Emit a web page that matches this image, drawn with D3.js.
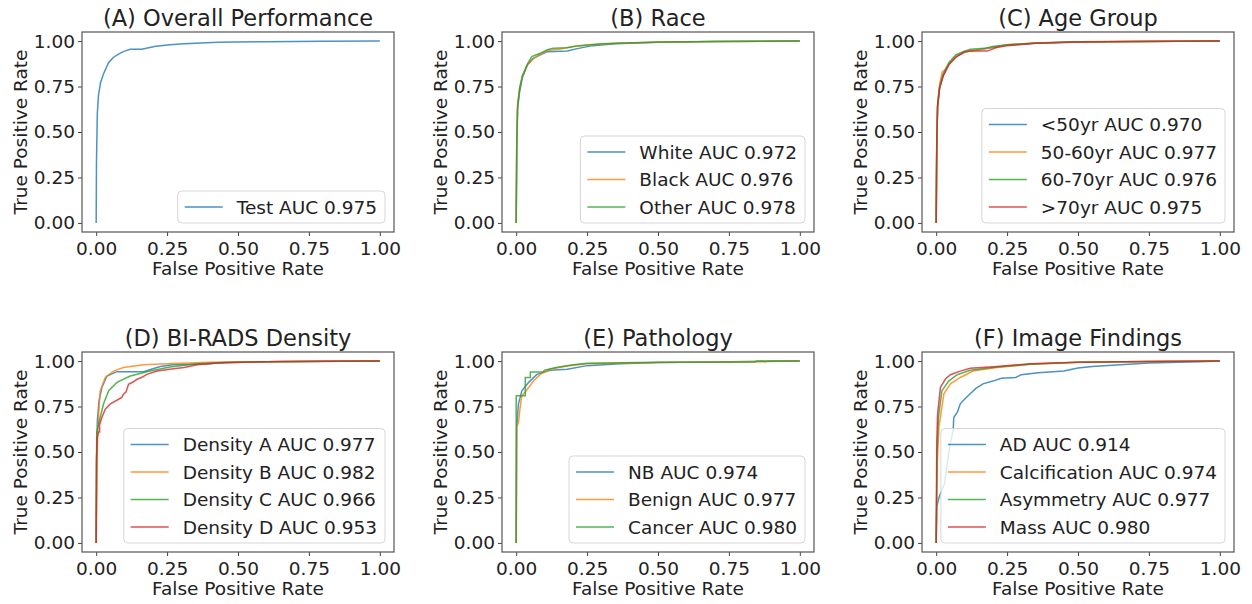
<!DOCTYPE html>
<html>
<head>
  <meta charset="utf-8">
  <script src="https://cdnjs.cloudflare.com/ajax/libs/d3/7.8.5/d3.min.js"></script>
  <style>
    body { margin: 0; background: #fff; }
    svg text { font-family: "DejaVu Sans", sans-serif; fill: #222; }
  </style>
</head>
<body>
<svg id="chart" width="1252" height="604"></svg>
<script>
// tick values shared by every panel
var tickValues = [0, 0.25, 0.5, 0.75, 1];
var panelTitles = ["(A) Overall Performance", "(B) Race", "(C) Age Group",
                   "(D) BI-RADS Density", "(E) Pathology", "(F) Image Findings"];
var colors = ["#1f77b4", "#ff7f0e", "#2ca02c", "#d62728"];

// (A)
var testRoc = [[0,0],[0.001,0.33],[0.004,0.6],[0.008,0.7],[0.015,0.77],[0.026,0.82],[0.043,0.88],[0.06,0.91],[0.08,0.93],[0.1,0.945],[0.12,0.955],[0.16,0.955],[0.21,0.972],[0.26,0.98],[0.31,0.985],[0.43,0.993],[0.6,0.997],[0.8,0.999],[1,1]];
var labelsA = ["Test AUC 0.975"];

// (B)
var whiteRoc = [[0,0],[0.002,0.4],[0.005,0.63],[0.012,0.72],[0.022,0.8],[0.04,0.87],[0.06,0.905],[0.08,0.92],[0.11,0.942],[0.18,0.945],[0.22,0.96],[0.27,0.975],[0.35,0.985],[0.5,0.993],[0.7,0.998],[1,1]];
var blackRoc = [[0,0],[0.002,0.45],[0.005,0.65],[0.012,0.74],[0.022,0.81],[0.04,0.87],[0.06,0.9],[0.08,0.925],[0.11,0.948],[0.15,0.955],[0.2,0.97],[0.27,0.98],[0.35,0.988],[0.5,0.994],[0.7,0.998],[1,1]];
var otherRoc = [[0,0],[0.002,0.42],[0.005,0.64],[0.012,0.74],[0.022,0.81],[0.04,0.875],[0.055,0.915],[0.08,0.93],[0.11,0.952],[0.13,0.96],[0.18,0.963],[0.22,0.975],[0.3,0.985],[0.5,0.995],[0.7,0.998],[1,1]];
var labelsB = ["White AUC 0.972", "Black AUC 0.976", "Other AUC 0.978"];

// (C)
var under50Roc = [[0,0],[0.002,0.4],[0.005,0.64],[0.012,0.74],[0.025,0.81],[0.045,0.875],[0.07,0.915],[0.1,0.94],[0.15,0.952],[0.2,0.965],[0.25,0.978],[0.35,0.988],[0.5,0.995],[0.7,0.998],[1,1]];
var age5060Roc = [[0,0],[0.002,0.45],[0.005,0.66],[0.012,0.76],[0.021,0.83],[0.03,0.84],[0.045,0.872],[0.07,0.915],[0.1,0.943],[0.15,0.952],[0.2,0.968],[0.25,0.98],[0.35,0.99],[0.5,0.996],[0.7,0.998],[1,1]];
var age6070Roc = [[0,0],[0.002,0.42],[0.005,0.65],[0.012,0.75],[0.025,0.82],[0.045,0.882],[0.07,0.925],[0.1,0.945],[0.12,0.955],[0.17,0.96],[0.2,0.97],[0.25,0.98],[0.35,0.99],[0.5,0.996],[0.7,0.998],[1,1]];
var over70Roc = [[0,0],[0.002,0.43],[0.005,0.64],[0.012,0.74],[0.025,0.81],[0.045,0.87],[0.07,0.912],[0.1,0.94],[0.12,0.945],[0.18,0.945],[0.21,0.963],[0.25,0.975],[0.35,0.988],[0.5,0.995],[0.7,0.998],[1,1]];
var labelsC = ["<50yr AUC 0.970", "50-60yr AUC 0.977", "60-70yr AUC 0.976", ">70yr AUC 0.975"];

// (D)
var densityARoc = [[0,0],[0.002,0.5],[0.004,0.67],[0.01,0.78],[0.02,0.855],[0.038,0.918],[0.073,0.942],[0.167,0.942],[0.2,0.958],[0.226,0.97],[0.27,0.98],[0.4,0.985],[0.45,0.993],[0.6,0.997],[1,1]];
var densityBRoc = [[0,0],[0.003,0.45],[0.006,0.63],[0.01,0.74],[0.014,0.835],[0.032,0.91],[0.061,0.945],[0.096,0.965],[0.167,0.98],[0.27,0.987],[0.4,0.993],[0.6,0.997],[1,1]];
var densityCRoc = [[0,0],[0.001,0.45],[0.002,0.61],[0.014,0.69],[0.026,0.765],[0.044,0.837],[0.073,0.883],[0.12,0.918],[0.19,0.945],[0.26,0.968],[0.356,0.985],[0.5,0.993],[0.65,0.998],[1,1]];
var densityDRoc = [[0,0],[0.001,0.45],[0.004,0.58],[0.008,0.61],[0.012,0.61],[0.012,0.65],[0.02,0.69],[0.032,0.735],[0.05,0.765],[0.079,0.79],[0.09,0.8],[0.096,0.818],[0.105,0.83],[0.114,0.872],[0.13,0.885],[0.144,0.9],[0.16,0.91],[0.179,0.927],[0.214,0.945],[0.26,0.955],[0.31,0.965],[0.356,0.98],[0.426,0.99],[0.6,0.997],[0.8,0.999],[1,1]];
var labelsD = ["Density A AUC 0.977", "Density B AUC 0.982", "Density C AUC 0.966", "Density D AUC 0.953"];

// (E)
var nbRoc = [[0,0],[0.002,0.64],[0.008,0.765],[0.02,0.837],[0.044,0.883],[0.073,0.927],[0.12,0.95],[0.18,0.955],[0.25,0.975],[0.367,0.985],[0.5,0.992],[0.75,0.997],[1,1]];
var benignRoc = [[0,0],[0.002,0.637],[0.008,0.66],[0.014,0.745],[0.02,0.81],[0.032,0.83],[0.044,0.855],[0.061,0.89],[0.085,0.927],[0.12,0.955],[0.18,0.973],[0.25,0.985],[0.5,0.992],[0.88,0.996],[0.89,1],[1,1]];
var cancerRoc = [[0,0],[0,0.81],[0.032,0.81],[0.032,0.91],[0.05,0.91],[0.05,0.94],[0.095,0.94],[0.1,0.95],[0.14,0.965],[0.2,0.98],[0.25,0.988],[0.5,0.993],[0.84,0.995],[0.85,1],[1,1]];
var labelsE = ["NB AUC 0.974", "Benign AUC 0.977", "Cancer AUC 0.980"];

// (F)
var adRoc = [[0,0],[0.002,0.2],[0.01,0.25],[0.03,0.33],[0.04,0.45],[0.05,0.55],[0.06,0.62],[0.062,0.69],[0.075,0.72],[0.085,0.765],[0.1,0.79],[0.12,0.82],[0.14,0.85],[0.165,0.875],[0.2,0.89],[0.23,0.905],[0.28,0.91],[0.3,0.925],[0.36,0.936],[0.45,0.945],[0.5,0.962],[0.55,0.97],[0.65,0.98],[0.75,0.99],[0.93,0.997],[1,1]];
var calcRoc = [[0,0],[0.004,0.45],[0.01,0.64],[0.027,0.82],[0.05,0.875],[0.085,0.91],[0.13,0.945],[0.214,0.965],[0.33,0.982],[0.5,0.993],[0.75,0.998],[1,1]];
var asymRoc = [[0,0],[0.003,0.5],[0.008,0.69],[0.02,0.836],[0.044,0.89],[0.074,0.925],[0.12,0.95],[0.214,0.968],[0.33,0.982],[0.5,0.993],[0.75,0.998],[1,1]];
var massRoc = [[0,0],[0.002,0.55],[0.005,0.71],[0.015,0.855],[0.032,0.9],[0.05,0.925],[0.085,0.945],[0.12,0.96],[0.214,0.97],[0.33,0.985],[0.5,0.994],[0.75,0.998],[1,1]];
var labelsF = ["AD AUC 0.914", "Calcification AUC 0.974", "Asymmetry AUC 0.977", "Mass AUC 0.980"];

var panels = [
  {series: [testRoc], labels: labelsA},
  {series: [whiteRoc, blackRoc, otherRoc], labels: labelsB},
  {series: [under50Roc, age5060Roc, age6070Roc, over70Roc], labels: labelsC},
  {series: [densityARoc, densityBRoc, densityCRoc, densityDRoc], labels: labelsD},
  {series: [nbRoc, benignRoc, cancerRoc], labels: labelsE},
  {series: [adRoc, calcRoc, asymRoc, massRoc], labels: labelsF}
];

var svg = d3.select("#chart");
var pw = 312, ph = 200, fs = 18.5;

var x = d3.scaleLinear().domain([-0.05, 1.05]).range([0, pw]);
var y = d3.scaleLinear().domain([-0.05, 1.05]).range([ph, 0]);
var line = d3.line().x(function(d){ return x(d[0]); }).y(function(d){ return y(d[1]); });

panels.forEach(function(p, i){
  var left = 82 + (i % 3) * 420;
  var top = 32 + Math.floor(i / 3) * 320;
  var g = svg.append("g").attr("transform", "translate(" + left + "," + top + ")");

  var xa = g.append("g").attr("transform", "translate(0," + ph + ")")
    .call(d3.axisBottom(x).tickValues(tickValues).tickFormat(d3.format(".2f")).tickSize(4).tickPadding(5.5));
  var ya = g.append("g")
    .call(d3.axisLeft(y).tickValues(tickValues).tickFormat(d3.format(".2f")).tickSize(4).tickPadding(3));
  [xa, ya].forEach(function(a){
    a.select(".domain").remove();
    a.selectAll("line").attr("stroke", "#444");
    a.selectAll("text").style("font-size", fs + "px").attr("fill", "#222");
  });

  p.series.forEach(function(s, k){
    g.append("path").datum(s).attr("d", line)
      .attr("fill", "none").attr("stroke", colors[k])
      .attr("stroke-width", 1.5).attr("stroke-opacity", 0.8);
  });

  g.append("rect").attr("width", pw).attr("height", ph)
    .attr("fill", "none").attr("stroke", "#555").attr("stroke-width", 1.2);

  g.append("text").attr("x", pw / 2).attr("y", -6).attr("text-anchor", "middle")
    .style("font-size", "22.5px").text(panelTitles[i]);
  g.append("text").attr("x", pw / 2).attr("y", ph + 43).attr("text-anchor", "middle")
    .style("font-size", fs + "px").text("False Positive Rate");
  g.append("text").attr("transform", "translate(-55," + (ph / 2) + ") rotate(-90)")
    .attr("text-anchor", "middle").style("font-size", fs + "px").text("True Positive Rate");

  // legend, lower right
  var n = p.labels.length;
  var lg = g.append("g");
  var box = lg.append("rect").attr("rx", 4).attr("ry", 4)
    .attr("fill", "#fff").attr("fill-opacity", 0.8)
    .attr("stroke", "#ccc").attr("stroke-opacity", 0.8);
  var maxW = 0;
  var texts = p.labels.map(function(l, k){
    var t = lg.append("text").style("font-size", fs + "px").text(l);
    maxW = Math.max(maxW, t.node().getComputedTextLength());
    return t;
  });
  var bw = 7 + 38 + 14 + maxW + 8;
  var bh = 32 + (n - 1) * 27.5;
  var bx = pw - 9 - bw, by = ph - 9 - bh;
  box.attr("x", bx).attr("y", by).attr("width", bw).attr("height", bh);
  texts.forEach(function(t, k){
    var cy = by + 16 + k * 27.5;
    lg.append("line").attr("x1", bx + 7).attr("x2", bx + 45).attr("y1", cy).attr("y2", cy)
      .attr("stroke", colors[k]).attr("stroke-width", 1.5).attr("stroke-opacity", 0.8);
    t.attr("x", bx + 59).attr("y", cy + 6.5);
  });
});
</script>
</body>
</html>
